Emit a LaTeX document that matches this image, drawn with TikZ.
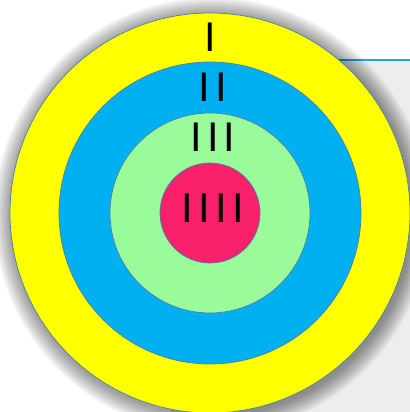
\documentclass[tikz,border=0pt]{standalone}
\usepackage{fontspec}
\setmainfont{Liberation Sans}
\usepackage{tikz}
\usetikzlibrary{calc}
\definecolor{gelb}{HTML}{FFFF00}
\definecolor{blau}{HTML}{00B0F0}
\definecolor{gruen}{HTML}{9AFB9A}
\definecolor{rot}{HTML}{F8206A}
\definecolor{rand}{HTML}{4A7EA8}
\definecolor{hgrau}{HTML}{EDEDED}
\definecolor{linie}{HTML}{1FA5E8}
\tikzset{
  ring/.style={draw=rand,line width=0.5pt},
  zahl/.style={inner sep=0pt,font=\fontsize{29.5}{30}\selectfont\addfontfeature{LetterSpace=13}},
}

\begin{document}
\begin{tikzpicture}
  \useasboundingbox (0,0) rectangle (10.25,10.3);
  \coordinate (m) at (5.25,4.975);
  % hintergrund
  \fill[hgrau] (4.25,-0.1) rectangle (10.3,8.8);
  \draw[linie,line width=1.2pt] (4.25,8.8) -- (10.3,8.8);
  % schatten
  \foreach \r in {0.03,0.06,...,0.45}
    \fill[black,opacity=0.03] ($(m)+(0.05,-0.06)$) circle (5+\r);
  % ringe
  \draw[ring,fill=gelb] (m) circle (5);
  \draw[ring,fill=blau] (m) circle (3.775);
  \draw[ring,fill=gruen] (m) circle (2.5);
  \draw[ring,fill=rot] (m) circle (1.25);
  % beschriftung
  \node[zahl] (z1) at (5.25,9.375) {I};
  \node[zahl] (z2) at (5.32,8.11) {II};
  \node[zahl] (z3) at (5.32,6.86) {III};
  \node[zahl] (z4) at (5.32,5.1) {IIII};
\end{tikzpicture}
\end{document}
